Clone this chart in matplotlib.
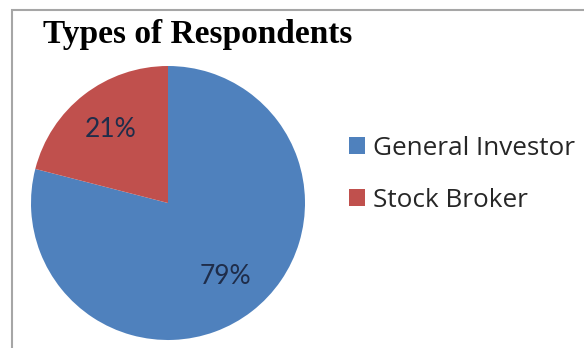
import matplotlib.pyplot as plt
from matplotlib.patches import Rectangle

# Chart data
categories = ['General Investor', 'Stock Broker']
shares = [79, 21]
colors = ['#4F81BD', '#C0504D']

W, H = 584, 348
fig = plt.figure(figsize=(W / 100, H / 100), dpi=100)

# chart frame (left and top edges visible)
fig.patches.append(Rectangle((12 / W, -0.05), 1.2, (H - 10) / H + 0.05,
                             transform=fig.transFigure, fill=False,
                             edgecolor='#A6A6A6', linewidth=1.5))

ax = fig.add_axes([31 / W, 8 / H, 274 / W, 274 / H])
wedges, texts, autotexts = ax.pie(shares, colors=colors, startangle=90,
                                  counterclock=False, radius=1.0,
                                  autopct='%d%%', pctdistance=0.68,
                                  textprops={'fontsize': 19, 'color': '#1F2D4A',
                                             'family': 'Lato'})
ax.set_xlim(-1, 1)
ax.set_ylim(-1, 1)
ax.set_aspect('equal')

fig.text(43 / W, 1 - 34 / H, 'Types of Respondents', fontsize=24,
         fontweight='bold', family='Liberation Serif', va='center', ha='left')

fig.legend(wedges, categories, loc='upper left',
           bbox_to_anchor=(349 / W, 1 - 136 / H), frameon=False,
           borderpad=0, borderaxespad=0,
           prop={'family': 'Open Sans', 'size': 18.8}, handlelength=0.62,
           handleheight=0.62, handletextpad=0.3, labelspacing=1.03,
           labelcolor='#262626')

fig.savefig('out.png', dpi=100)
